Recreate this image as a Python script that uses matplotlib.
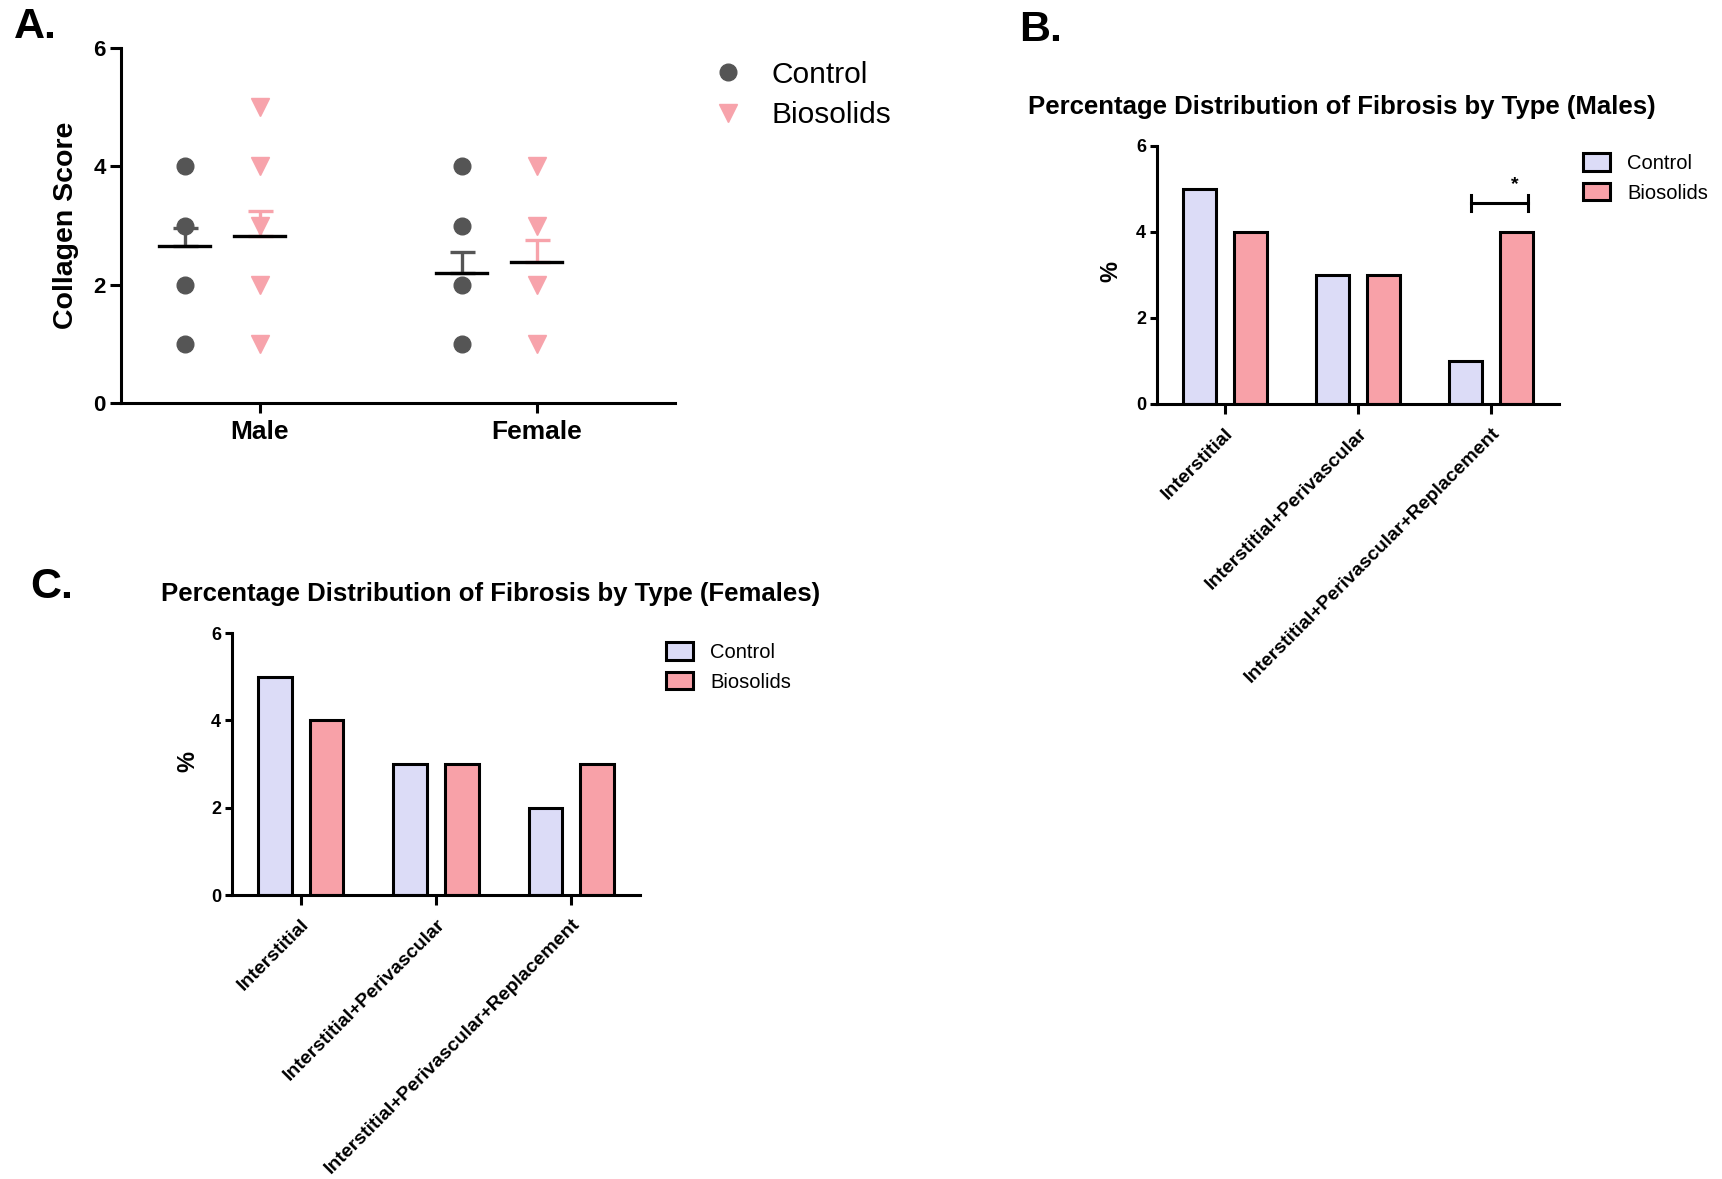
import matplotlib
matplotlib.use("Agg")
import matplotlib.pyplot as plt
from matplotlib.lines import Line2D
from matplotlib.patches import Patch

plt.rcParams["font.family"] = ["Liberation Sans", "DejaVu Sans"]
NARROW = ["Liberation Sans Narrow", "Liberation Sans", "DejaVu Sans"]

# --- panel A: collagen score per animal ---
sexes = ["Male", "Female"]
control_scores = [[4, 3, 2, 1], [4, 3, 2, 1]]
biosolids_scores = [[5, 4, 3, 2, 1], [4, 3, 2, 1]]
control_mean = [2.66, 2.20]
control_sem = [0.30, 0.35]
biosolids_mean = [2.83, 2.39]
biosolids_sem = [0.41, 0.36]

# --- panels B and C: fibrosis type distribution ---
fibrosis_types = ["Interstitial", "Interstitial+Perivascular",
                  "Interstitial+Perivascular+Replacement"]
males_control = [5, 3, 1]
males_biosolids = [4, 3, 4]
females_control = [5, 3, 2]
females_biosolids = [4, 3, 3]

GREY = "#555555"
PINK = "#F7A3AB"
LAVENDER = "#DCDCF7"
BAR_PINK = "#F8A1A8"

W, H = 1722, 1179
fig = plt.figure(figsize=(W / 100, H / 100), dpi=100)


def px_axes(l, t, r, b):
    return fig.add_axes([l / W, 1 - b / H, (r - l) / W, (b - t) / H])


def fig_text(x, y, s, **kw):
    fig.text(x / W, 1 - y / H, s, **kw)


def style_axes(ax, lw, ylen, xlen):
    for side in ["top", "right"]:
        ax.spines[side].set_visible(False)
    for side in ["left", "bottom"]:
        ax.spines[side].set_linewidth(lw)
    ax.tick_params(axis="y", length=ylen, width=lw, direction="out")
    ax.tick_params(axis="x", length=xlen, width=lw, direction="out")


# ---------------- A ----------------
ax = px_axes(121, 48, 675, 403)
style_axes(ax, 2.2, 8, 7)
ax.set_xlim(-0.5, 1.5)
ax.set_ylim(0, 6)
ax.set_yticks([0, 2, 4, 6])
ax.set_xticks(range(len(sexes)))
ax.set_xticklabels(sexes, fontsize=19, fontweight="bold")
ax.set_yticklabels(["0", "2", "4", "6"], fontsize=16, fontweight="bold", family=NARROW)
ax.tick_params(axis="x", pad=5)
ax.tick_params(axis="y", pad=3)

offset = -0.27
half = 0.092
for i in range(len(sexes)):
    xc = i + offset
    ax.plot([xc] * len(control_scores[i]), control_scores[i], "o", color=GREY,
            markersize=12, linestyle="none", zorder=3)
    ax.errorbar([xc], [control_mean[i]], yerr=[[0], [control_sem[i]]], color=GREY,
                lw=2.4, capsize=9, capthick=2.4, zorder=4)
    ax.plot([xc - half, xc + half], [control_mean[i]] * 2, color="black", lw=2.4, zorder=5)

    xb = i
    ax.plot([xb] * len(biosolids_scores[i]), biosolids_scores[i], "v", color=PINK,
            markersize=13, linestyle="none", zorder=3)
    ax.errorbar([xb], [biosolids_mean[i]], yerr=[[0], [biosolids_sem[i]]], color=PINK,
                lw=2.4, capsize=9, capthick=2.4, zorder=4)
    ax.plot([xb - half, xb + half], [biosolids_mean[i]] * 2, color="black", lw=2.4, zorder=5)

fig_text(66, 225, "Collagen Score", fontsize=20.5, fontweight="bold", rotation=90,
         ha="center", va="center")
handles_a = [Line2D([], [], marker="o", color=GREY, linestyle="none", markersize=12),
             Line2D([], [], marker="v", color=PINK, linestyle="none", markersize=13)]
ax.legend(handles_a, ["Control", "Biosolids"], loc="center left",
          bbox_to_anchor=(713 / W, 1 - 95 / H), bbox_transform=fig.transFigure,
          frameon=False, fontsize=21.5, handlelength=1.0, handletextpad=0.95,
          labelspacing=0.42, borderpad=0, borderaxespad=0)
fig_text(14, 27, "A.", fontsize=31, fontweight="bold", ha="left", va="center")


# ---------------- B and C ----------------
def fibrosis_panel(rect, control, biosolids, title, title_xy, ylabel_xy, legend_xy):
    ax = px_axes(*rect)
    style_axes(ax, 2.2, 5, 7)
    x = range(len(fibrosis_types))
    ax.bar([i - 0.19 for i in x], control, width=0.25, color=LAVENDER,
           edgecolor="black", linewidth=2.2, zorder=2)
    ax.bar([i + 0.19 for i in x], biosolids, width=0.25, color=BAR_PINK,
           edgecolor="black", linewidth=2.2, zorder=2)
    ax.set_xlim(-0.51, 2.51)
    ax.set_ylim(0, 6)
    ax.set_yticks([0, 2, 4, 6])
    ax.set_yticklabels(["0", "2", "4", "6"], fontsize=13, fontweight="bold", family=NARROW)
    ax.tick_params(axis="y", pad=3)
    ax.set_xticks(list(x))
    ax.set_xticklabels(fibrosis_types, rotation=45, ha="right", va="top",
                       rotation_mode="anchor", fontsize=14, fontweight="bold")
    ax.tick_params(axis="x", pad=8)
    fig_text(*title_xy, title, fontsize=18.5, fontweight="bold", ha="center", va="center")
    fig_text(*ylabel_xy, "%", fontsize=17, fontweight="bold", rotation=90,
             ha="center", va="center")
    handles = [Patch(facecolor=LAVENDER, edgecolor="black", linewidth=2.2),
               Patch(facecolor=BAR_PINK, edgecolor="black", linewidth=2.2)]
    ax.legend(handles, ["Control", "Biosolids"], loc="center left",
              bbox_to_anchor=(legend_xy[0] / W, 1 - legend_xy[1] / H),
              bbox_transform=fig.transFigure, frameon=False, fontsize=14.5,
              handlelength=1.35, handleheight=0.95, handletextpad=0.85,
              labelspacing=0.5, borderpad=0, borderaxespad=0)
    return ax


ax_b = fibrosis_panel((1157, 146, 1559, 404), males_control, males_biosolids,
                      "Percentage Distribution of Fibrosis by Type (Males)",
                      (1342, 107), (1111, 271), (1583, 178))
# significance bracket between groups in the third category
ax_b.plot([1.85, 2.28], [4.67, 4.67], color="black", lw=2.2)
ax_b.plot([1.85, 1.85], [4.49, 4.85], color="black", lw=2.2)
ax_b.plot([2.28, 2.28], [4.49, 4.85], color="black", lw=2.2)
ax_b.text(2.18, 5.1, "*", fontsize=14, fontweight="bold", ha="center", va="center")
fig_text(1019, 30, "B.", fontsize=31, fontweight="bold", ha="left", va="center")

fibrosis_panel((232, 633, 640, 895), females_control, females_biosolids,
               "Percentage Distribution of Fibrosis by Type (Females)",
               (491, 594), (188, 762), (666, 667))
fig_text(30, 587, "C.", fontsize=31, fontweight="bold", ha="left", va="center")

fig.savefig("out.png", dpi=100)
